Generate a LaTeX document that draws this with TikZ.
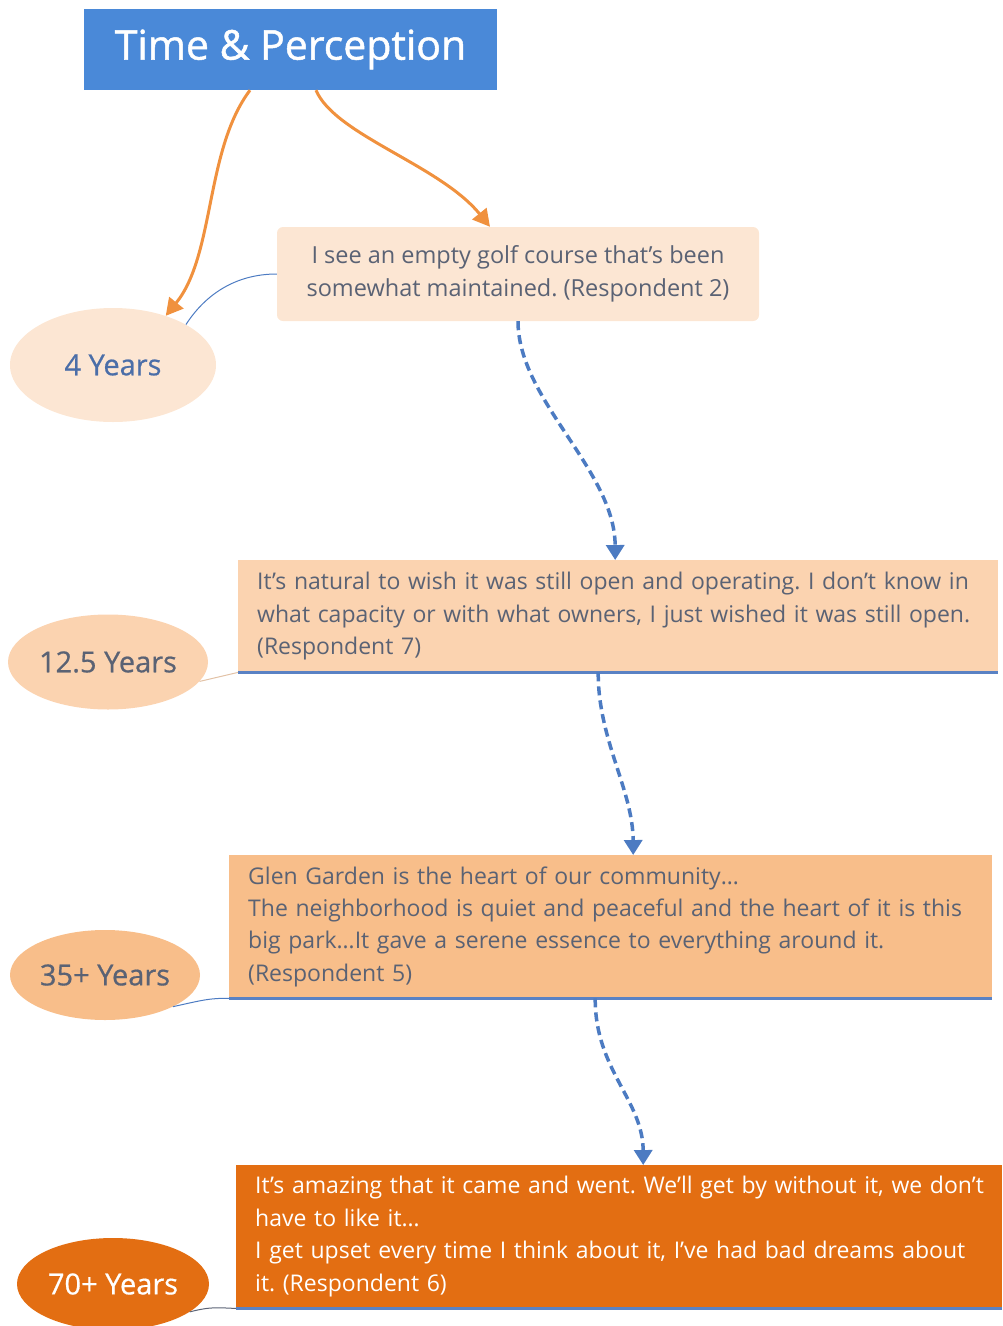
\documentclass[tikz,border=0pt]{standalone}
\usepackage{fontspec}
\setmainfont{Open Sans}
\newfontfamily\titlefont[FakeBold=1.2]{Open Sans}
\newfontfamily\agefont[FakeBold=0.6]{Open Sans}
\frenchspacing
\usetikzlibrary{shapes.geometric,arrows.meta}
\definecolor{titleblue}{HTML}{4A89D8}
\definecolor{arrorange}{HTML}{F0913E}
\definecolor{linkblue}{HTML}{4C7BC2}
\definecolor{rulblue}{HTML}{5A82C4}
\definecolor{fillA}{HTML}{FCE6D3}
\definecolor{fillB}{HTML}{FBD3B0}
\definecolor{fillC}{HTML}{F8BE8A}
\definecolor{fillD}{HTML}{E36E12}
\definecolor{txtgray}{HTML}{5A6274}
\definecolor{txtblue}{HTML}{4B6EA8}
\tikzset{
  quote/.style={rectangle, inner xsep=19pt, inner ysep=0pt, align=left, anchor=north west,
    font=\fontsize{23}{32.5}\selectfont, text=txtgray},
  agebubble/.style={ellipse, inner sep=0pt, font=\agefont\fontsize{29}{32}\selectfont, text=txtgray},
  orangearrow/.style={draw=arrorange, line width=3pt, -{Triangle[length=17pt,width=18pt]}},
  dasharrow/.style={draw=linkblue, line width=3.5pt, dash pattern=on 9pt off 5pt,
    -{Triangle[length=15pt,width=18pt]}},
  thinlink/.style={draw=linkblue, line width=1pt},
  bottomrule/.style={draw=rulblue, line width=3.5pt}
}
\begin{document}
\begin{tikzpicture}[x=1pt,y=-1pt]
\useasboundingbox (0,0) rectangle (1002,1326);
% title
\node (title) [rectangle, fill=titleblue, minimum width=413pt, minimum height=81pt, inner sep=0pt,
  text=white, font=\titlefont\fontsize{41}{44}\selectfont] at (290.5,49.5) {Time \& Perception};
% first quote
\node (q1) [rectangle, rounded corners=6pt, fill=fillA, minimum width=482pt, minimum height=94pt,
  inner sep=0pt, align=center, font=\fontsize{23.5}{32.5}\selectfont, text=txtgray] at (518,274)
  {\raisebox{-4pt}{\parbox{470pt}{\centering I see an empty golf course that’s been\\somewhat maintained. (Respondent 2)}}};
\node (y4) [agebubble, fill=fillA, minimum width=206pt, minimum height=114pt, text=txtblue] at (113,365) {4 Years};
% second
\node (q2) [quote, fill=fillB, minimum width=760pt, minimum height=112pt, text width=722pt] at (238,560)
  {\raisebox{-3pt}{\parbox{722pt}{It’s natural to wish it was still open and operating. I don’t know in\\what capacity or with what owners, I just wished it was still open.\\(Respondent 7)}}};
\node (y12) [agebubble, fill=fillB, minimum width=200pt, minimum height=95pt] at (108,662) {12.5 Years};
% third
\node (q3) [quote, fill=fillC, minimum width=763pt, minimum height=143pt, text width=725pt] at (229,855)
  {\raisebox{-3pt}{\parbox{725pt}{Glen Garden is the heart of our community…\\The neighborhood is quiet and peaceful and the heart of it is this\\big park…It gave a serene essence to everything around it.\\(Respondent 5)}}};
\node (y35) [agebubble, fill=fillC, minimum width=190pt, minimum height=90pt] at (105,975) {35+ Years};
% fourth
\node (q4) [quote, fill=fillD, text=white, minimum width=766pt, minimum height=143pt, text width=728pt] at (236,1165)
  {\raisebox{-4pt}{\parbox{728pt}{\mbox{It’s amazing that it came and went. We’ll get by without it, we don’t}\\have to like it…\\I get upset every time I think about it, I’ve had bad dreams about\\it. (Respondent 6)}}};
\node (y70) [agebubble, fill=fillD, text=white, minimum width=192pt, minimum height=92pt] at (113,1284) {70+ Years};
% bottom rules
\draw[bottomrule] (q2.south west) -- (q2.south east);
\draw[bottomrule] (q3.south west) -- (q3.south east);
\draw[bottomrule] (q4.south west) -- (q4.south east);
% orange arrows
\draw[orangearrow] ([xshift=-40.5pt]title.south) .. controls (205,150) and (215,255) .. (y4.43);
\draw[orangearrow] ([xshift=25.5pt]title.south) .. controls (335,135) and (440,165) .. ([xshift=-28pt]q1.north);
% thin links
\draw[thinlink] (q1.west) .. controls (235,274) and (205,295) .. (y4.29);
\draw[draw=fillB!80!gray, line width=1pt] (y12.-12) -- (q2.south west);
\draw[thinlink] (y35.-25) .. controls (203,1000) and (210,998) .. (q3.south west);
\draw[draw=txtgray, line width=1pt] (y70.-20) .. controls (212,1306) and (220,1308) .. (q4.south west);
% dashed arrows
\draw[dasharrow] (q1.south) .. controls (518,400) and (615,470) .. ([xshift=-3pt]q2.north);
\draw[dasharrow] ([xshift=-20pt]q2.south) .. controls (598,740) and (633,790) .. ([xshift=22.5pt]q3.north);
\draw[dasharrow] ([xshift=-15.5pt]q3.south) .. controls (595,1070) and (643,1100) .. ([xshift=24pt]q4.north);
\end{tikzpicture}
\end{document}
